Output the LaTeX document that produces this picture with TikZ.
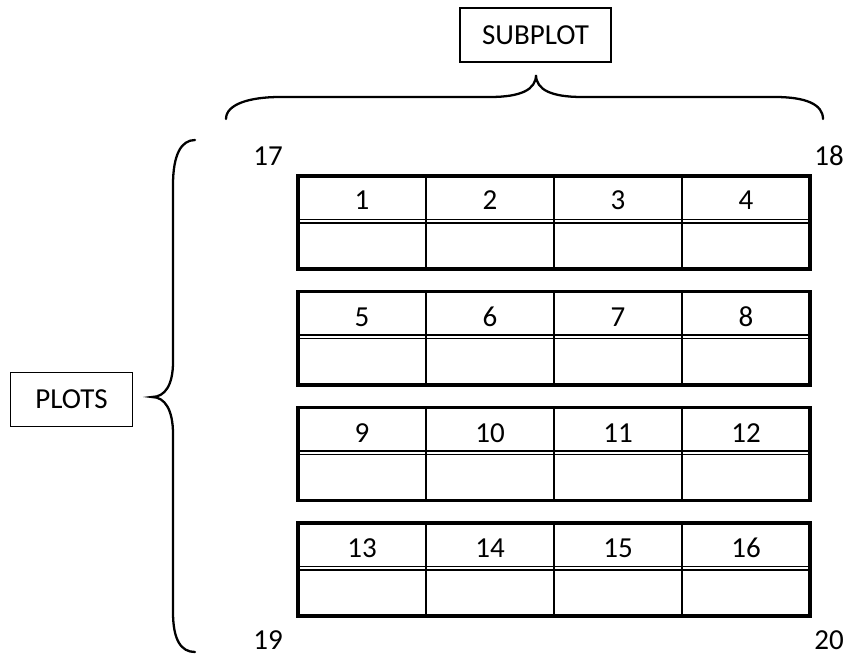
\documentclass[tikz,border=0pt]{standalone}
\usepackage{fontspec}
\setmainfont{Carlito}

\begin{document}
\begin{tikzpicture}[x=0.02cm, y=-0.02cm,
    every node/.style={
        font=\fontsize{16.5}{19}\selectfont,
        inner sep=0pt
    },
    num/.style={anchor=base},
    titlebox/.style={
        draw,
        line width=1.1pt
    },
    tableframe/.style={line width=2pt},
    rule/.style={line width=1.3pt},
    splitline/.style={line width=1.1pt},
    curly/.style={line width=1.3pt, line cap=round}
]
\useasboundingbox (0,0) rectangle (851,655);

%%%%%%%%%%%%%%%%%%%%%%%%
% Titles and braces
%%%%%%%%%%%%%%%%%%%%%%%%

\node[titlebox, minimum width=3.02cm, minimum height=1.08cm] (subplot) at (535.5,35) {SUBPLOT};
\node[titlebox, minimum width=2.44cm, minimum height=1.08cm] (plots) at (71.5,399.5) {PLOTS};

% --- Brace over the columns ---
\draw[curly] (226,119) .. controls (226,104) and (250,97) .. (280,97)
    -- (490,97) .. controls (520,97) and (536,90) .. (536,75)
    .. controls (536,90) and (552,97) .. (582,97)
    -- (775,97) .. controls (805,97) and (823,104) .. (823,119);

% --- Brace beside the rows ---
\draw[curly] (195,140) .. controls (181,140) and (173,155) .. (173,185)
    -- (173,362) .. controls (173,385) and (165,397) .. (152,397)
    .. controls (165,397) and (173,410) .. (173,434)
    -- (173,612) .. controls (173,640) and (181,652) .. (195,652);

% --- Corner numbers ---
\node[num] (c17) at (268,165.5) {17};
\node[num] (c18) at (829,165.5) {18};
\node[num] (c19) at (268,649) {19};
\node[num] (c20) at (829,649) {20};

%%%%%%%%%%%%%%%%%%%%%%%%
% Plot 1
%%%%%%%%%%%%%%%%%%%%%%%%

\draw[tableframe] (298,176) rectangle (810,269);
\draw[rule] (426,176) -- (426,269) (554,176) -- (554,269) (682,176) -- (682,269);
\draw[splitline] (298,219.5) -- (810,219.5) (298,223) -- (810,223);
\node[num] (n1) at (362,210) {1};
\node[num] (n2) at (490,210) {2};
\node[num] (n3) at (618,210) {3};
\node[num] (n4) at (746,210) {4};

%%%%%%%%%%%%%%%%%%%%%%%%
% Plot 2
%%%%%%%%%%%%%%%%%%%%%%%%

\draw[tableframe] (298,291.5) rectangle (810,385);
\draw[rule] (426,291.5) -- (426,385) (554,291.5) -- (554,385) (682,291.5) -- (682,385);
\draw[splitline] (298,335) -- (810,335) (298,338.5) -- (810,338.5);
\node[num] (n5) at (362,326) {5};
\node[num] (n6) at (490,326) {6};
\node[num] (n7) at (618,326) {7};
\node[num] (n8) at (746,326) {8};

%%%%%%%%%%%%%%%%%%%%%%%%
% Plot 3
%%%%%%%%%%%%%%%%%%%%%%%%

\draw[tableframe] (298,407.5) rectangle (810,500.5);
\draw[rule] (426,407.5) -- (426,500.5) (554,407.5) -- (554,500.5) (682,407.5) -- (682,500.5);
\draw[splitline] (298,451) -- (810,451) (298,454.5) -- (810,454.5);
\node[num] (n9) at (362,442) {9};
\node[num] (n10) at (490,442) {10};
\node[num] (n11) at (618,442) {11};
\node[num] (n12) at (746,442) {12};

%%%%%%%%%%%%%%%%%%%%%%%%
% Plot 4
%%%%%%%%%%%%%%%%%%%%%%%%

\draw[tableframe] (298,523) rectangle (810,616);
\draw[rule] (426,523) -- (426,616) (554,523) -- (554,616) (682,523) -- (682,616);
\draw[splitline] (298,566.5) -- (810,566.5) (298,570) -- (810,570);
\node[num] (n13) at (362,557) {13};
\node[num] (n14) at (490,557) {14};
\node[num] (n15) at (618,557) {15};
\node[num] (n16) at (746,557) {16};

\end{tikzpicture}
\end{document}
